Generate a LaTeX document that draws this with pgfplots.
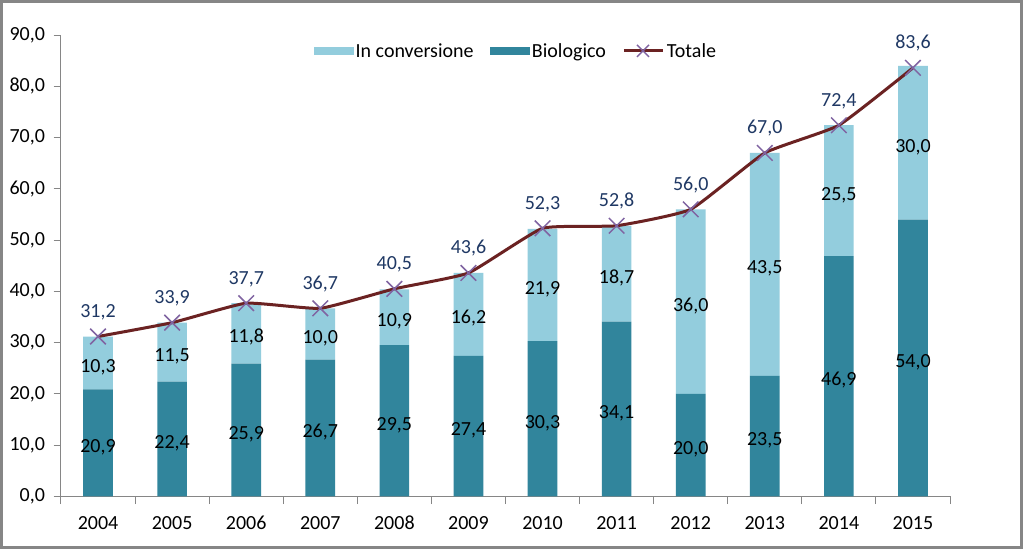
\documentclass[border=0pt]{standalone}
\usepackage{pgfplots}
\pgfplotsset{compat=1.18}
\usepackage{pgfplotstable}
\usepackage{fontspec}
\setmainfont{Carlito}

\definecolor{cConv}{HTML}{93CDDD}
\definecolor{cBio}{HTML}{31859C}
\definecolor{cTot}{HTML}{6B2222}
\definecolor{cMark}{HTML}{8064A2}
\definecolor{cLab}{HTML}{1F3864}
\definecolor{cAxis}{HTML}{868686}

\pgfplotstableread{
x year bio conv tot
0 2004 20.9 10.3 31.2
1 2005 22.4 11.5 33.9
2 2006 25.9 11.8 37.7
3 2007 26.7 10.0 36.7
4 2008 29.5 10.9 40.5
5 2009 27.4 16.2 43.6
6 2010 30.3 21.9 52.3
7 2011 34.1 18.7 52.8
8 2012 20.0 36.0 56.0
9 2013 23.5 43.5 67.0
10 2014 46.9 25.5 72.4
11 2015 54.0 30.0 83.6
}\datatable

\begin{document}
\begin{tikzpicture}[x=1pt,y=1pt,font=\fontsize{20}{24}\selectfont]
\useasboundingbox (0,0) rectangle (1023,549);
\fill[white] (0,0) rectangle (1023,549);
\draw[cAxis, line width=3pt] (1.5,1.5) rectangle (1021.5,547.5);
\pgfplotsset{common/.style={scale only axis, width=889pt, height=461.5pt,
  at={(61pt,52.5pt)}, anchor=south west, xmin=-0.5, xmax=11.5, ymin=0, ymax=90},
  lab/.style={nodes near coords={\pgfmathprintnumber[fixed,fixed zerofill,precision=1,use comma,assume math mode=true]{\pgfplotspointmeta}}}}
\begin{axis}[common, ybar stacked, bar width=0.4,
  axis lines*=left, axis line style={cAxis, line width=1pt},
  tick style={cAxis, line width=1pt}, major tick length=7.5pt, tick align=outside,
  ytick={0,10,...,90},
  yticklabel={\pgfmathprintnumber[fixed,fixed zerofill,precision=1,use comma,assume math mode=true]{\tick}},
  yticklabel style={black, xshift=-5pt, font=\fontsize{20}{24}\selectfont},
  xtick={-0.5,0.5,...,11.5}, x tick label as interval,
  xticklabels={2004,2005,2006,2007,2008,2009,2010,2011,2012,2013,2014,2015},
  xticklabel style={black, anchor=north, yshift=-13pt, text height=12.6pt, text depth=0pt, inner sep=0pt, font=\fontsize{20}{24}\selectfont},
  ]
\addplot[fill=cBio, draw=none] table[x=x,y=bio]{\datatable};
\addplot[fill=cConv, draw=none] table[x=x,y=conv]{\datatable};
\end{axis}
\begin{axis}[common, hide axis, clip=false,
  legend style={at={(0.512,0.9656)}, anchor=center, draw=none, fill=none,
    legend columns=-1, /tikz/every even column/.append style={column sep=14pt},
    nodes={inner sep=2.5pt}, font=\fontsize{20}{24}\selectfont},
  legend cell align=left]
\addlegendimage{legend image code/.code={\fill[cConv] (0pt,-3.5pt) rectangle (39pt,3.5pt);}}
\addlegendentry{In conversione}
\addlegendimage{legend image code/.code={\fill[cBio] (0pt,-3.5pt) rectangle (39pt,3.5pt);}}
\addlegendentry{Biologico}
\addlegendimage{legend image code/.code={\draw[cTot, line width=3pt] (0pt,0pt) -- (39pt,0pt);
  \draw[cMark, line width=1.5pt] (13pt,-6pt) -- (25pt,6pt) (13pt,6pt) -- (25pt,-6pt);}}
\addlegendentry{Totale}
\addplot[forget plot, only marks, mark=none, point meta=explicit, lab,
  every node near coord/.append style={black, anchor=base, yshift=-9.5pt, inner sep=0pt, font=\fontsize{20}{24}\selectfont}]
  table[x=x, y expr=\thisrow{bio}/2, meta=bio]{\datatable};
\addplot[forget plot, only marks, mark=none, point meta=explicit, lab,
  every node near coord/.append style={black, anchor=base, yshift=-9.5pt, inner sep=0pt, font=\fontsize{20}{24}\selectfont}]
  table[x=x, y expr=\thisrow{bio}+\thisrow{conv}/2, meta=conv]{\datatable};
\addplot[forget plot, cTot, line width=3pt, smooth, tension=0.25, mark=x, mark size=11pt,
  mark options={cMark, line width=1.5pt, solid}, point meta=y, lab,
  every node near coord/.append style={cLab, anchor=base, yshift=19pt, inner sep=0pt, font=\fontsize{20}{24}\selectfont}]
  table[x=x,y=tot]{\datatable};
\end{axis}
\end{tikzpicture}
\end{document}
